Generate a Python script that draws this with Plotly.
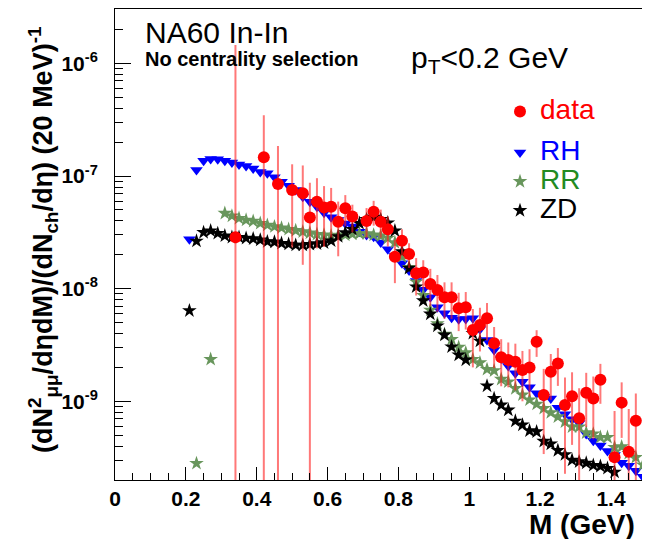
import plotly.graph_objects as go

# --- model curves (bin centres in GeV, yields per 20 MeV) ---
M_RH = [0.21, 0.23, 0.25, 0.27, 0.29, 0.31, 0.33, 0.35, 0.37, 0.39, 0.41, 0.43, 0.45,
        0.47, 0.49, 0.51, 0.53, 0.55, 0.57, 0.59, 0.61, 0.63, 0.65, 0.67, 0.69, 0.71,
        0.73, 0.75, 0.77, 0.79, 0.81, 0.83, 0.85, 0.87, 0.89, 0.91, 0.93, 0.95, 0.97,
        0.99, 1.01, 1.03, 1.05, 1.07, 1.09, 1.11, 1.13, 1.15, 1.17, 1.19, 1.21, 1.23,
        1.25, 1.27, 1.29, 1.31, 1.33, 1.35, 1.37, 1.39, 1.41, 1.43, 1.45, 1.47, 1.49]
RH = [2.75e-8, 1.13e-7, 1.37e-7, 1.42e-7, 1.41e-7, 1.37e-7, 1.32e-7, 1.27e-7, 1.23e-7,
      1.17e-7, 1.09e-7, 1.06e-7, 9.75e-8, 8.91e-8, 8.22e-8, 7.53e-8, 6.56e-8, 5.93e-8,
      5.35e-8, 4.73e-8, 4.31e-8, 4.07e-8, 3.80e-8, 3.56e-8, 3.21e-8, 3.00e-8, 2.90e-8,
      2.57e-8, 2.24e-8, 1.95e-8, 1.68e-8, 1.45e-8, 1.17e-8, 9.77e-9, 8.39e-9, 6.84e-9,
      6.05e-9, 5.52e-9, 5.35e-9, 5.38e-9, 5.46e-9, 4.37e-9, 3.50e-9, 2.86e-9, 2.40e-9,
      2.06e-9, 1.77e-9, 1.49e-9, 1.33e-9, 1.18e-9, 1.10e-9, 1.06e-9, 8.77e-10, 7.66e-10,
      6.92e-10, 6.37e-10, 5.13e-10, 4.47e-10, 4.04e-10, 3.62e-10, 3.33e-10, 2.85e-10,
      2.67e-10, 2.42e-10, 2.14e-10]

M_RR = [0.23, 0.27, 0.31, 0.33, 0.35, 0.37, 0.39, 0.41, 0.43, 0.45, 0.47, 0.49, 0.51,
        0.53, 0.55, 0.57, 0.59, 0.61, 0.63, 0.65, 0.67, 0.69, 0.71, 0.73, 0.75, 0.77,
        0.79, 0.81, 0.83, 0.85, 0.87, 0.89, 0.91, 0.93, 0.95, 0.97, 0.99, 1.01, 1.03,
        1.05, 1.07, 1.09, 1.11, 1.13, 1.15, 1.17, 1.19, 1.21, 1.23, 1.25, 1.27, 1.29,
        1.31, 1.33, 1.35, 1.37, 1.39, 1.41, 1.43, 1.45, 1.47, 1.49, 1.51]
RR = [2.81e-10, 2.36e-9, 4.68e-8, 4.43e-8, 4.22e-8, 4.07e-8, 3.98e-8, 3.81e-8, 3.67e-8,
      3.56e-8, 3.47e-8, 3.37e-8, 3.29e-8, 3.21e-8, 3.13e-8, 3.04e-8, 3.00e-8, 2.95e-8,
      2.99e-8, 3.00e-8, 3.06e-8, 3.09e-8, 3.09e-8, 3.00e-8, 2.94e-8, 2.81e-8, 2.57e-8,
      1.92e-8, 1.55e-8, 1.15e-8, 8.71e-9, 6.46e-9, 4.90e-9, 3.94e-9, 3.55e-9, 3.02e-9,
      2.70e-9, 2.36e-9, 2.20e-9, 1.92e-9, 1.87e-9, 1.57e-9, 1.49e-9, 1.30e-9, 1.14e-9,
      1.03e-9, 9.46e-10, 8.67e-10, 7.93e-10, 7.29e-10, 6.59e-10, 5.94e-10, 5.94e-10,
      5.26e-10, 5.13e-10, 4.79e-10, 4.79e-10, 3.89e-10, 3.95e-10, 3.45e-10, 3.18e-10,
      2.72e-10, 2.91e-10]

M_ZD = [0.21, 0.23, 0.25, 0.27, 0.29, 0.31, 0.33, 0.35, 0.37, 0.39, 0.41, 0.43, 0.45,
        0.47, 0.49, 0.51, 0.53, 0.55, 0.57, 0.59, 0.61, 0.63, 0.65, 0.67, 0.69, 0.71,
        0.73, 0.75, 0.77, 0.79, 0.81, 0.83, 0.85, 0.87, 0.89, 0.91, 0.93, 0.95, 0.97,
        0.99, 1.01, 1.03, 1.05, 1.07, 1.09, 1.11, 1.13, 1.15, 1.17, 1.19, 1.21, 1.23,
        1.25, 1.27, 1.29, 1.31, 1.33, 1.35, 1.37, 1.39, 1.41]
ZD = [6.38e-9, 2.65e-8, 3.16e-8, 3.27e-8, 3.10e-8, 2.95e-8, 2.86e-8, 2.86e-8, 2.81e-8,
      2.78e-8, 2.71e-8, 2.62e-8, 2.60e-8, 2.53e-8, 2.49e-8, 2.44e-8, 2.44e-8, 2.48e-8,
      2.51e-8, 2.56e-8, 2.66e-8, 2.90e-8, 3.15e-8, 3.37e-8, 3.81e-8, 4.13e-8, 4.31e-8,
      4.13e-8, 3.85e-8, 3.27e-8, 2.13e-8, 1.52e-8, 1.04e-8, 7.82e-9, 5.96e-9, 4.67e-9,
      3.88e-9, 3.05e-9, 2.58e-9, 2.33e-9, 4.02e-9, 3.43e-9, 1.37e-9, 1.06e-9, 9.27e-10,
      8.37e-10, 6.68e-10, 6.17e-10, 5.48e-10, 5.37e-10, 4.42e-10, 4.18e-10, 3.66e-10,
      3.36e-10, 3.01e-10, 2.91e-10, 2.83e-10, 2.70e-10, 2.65e-10, 2.54e-10, 2.35e-10]

# --- NA60 data with statistical errors ---
M_DATA = [0.34, 0.42, 0.46, 0.50, 0.53, 0.55, 0.57, 0.59, 0.61, 0.63, 0.65, 0.67, 0.71,
          0.73, 0.75, 0.77, 0.79, 0.81, 0.83, 0.85, 0.87, 0.89, 0.91, 0.93, 0.95, 0.97,
          0.99, 1.01, 1.03, 1.05, 1.07, 1.09, 1.11, 1.13, 1.15, 1.17, 1.19, 1.21, 1.23,
          1.25, 1.27, 1.29, 1.31, 1.33, 1.35, 1.37, 1.41, 1.43, 1.45, 1.47]
DATA = [2.86e-8, 1.47e-7, 8.51e-8, 7.53e-8, 7.03e-8, 4.28e-8, 5.93e-8, 5.25e-8, 5.35e-8,
        3.94e-8, 5.18e-8, 4.37e-8, 4.00e-8, 4.83e-8, 3.94e-8, 3.37e-8, 1.92e-8, 2.67e-8,
        2.03e-8, 1.37e-8, 1.39e-8, 1.10e-8, 9.73e-9, 8.39e-9, 8.39e-9, 6.70e-9, 6.84e-9,
        4.30e-9, 4.77e-9, 5.46e-9, 3.27e-9, 2.46e-9, 2.33e-9, 2.25e-9, 1.90e-9, 2.00e-9,
        3.38e-9, 1.14e-9, 1.83e-9, 2.17e-9, 9.27e-10, 1.11e-9, 7.06e-10, 1.19e-9,
        1.06e-9, 1.55e-9, 3.18e-10, 9.73e-10, 3.56e-10, 6.73e-10]
DATA_ERR = [1.43e-6, 2.0e-7, 1.0e-7, 5.2e-8, 5.4e-8, 4.45e-8, 3.65e-8, 2.9e-8, 2.5e-8,
            2.0e-8, 1.6e-8, 1.2e-8, 1.2e-8, 1.2e-8, 1.1e-8, 1.0e-8, 8e-9, 7e-9, 5e-9,
            5e-9, 4e-9, 4e-9, 3.5e-9, 3e-9, 3e-9, 2.5e-9, 2.5e-9, 2.3e-9, 2e-9, 2e-9,
            1.3e-9, 1.1e-9, 1.0e-9, 1.0e-9, 9e-10, 9e-10, 9e-10, 8e-10, 8e-10, 8e-10,
            7e-10, 7e-10, 6e-10, 6e-10, 6e-10, 6e-10, 5e-10, 5e-10, 5e-10, 5e-10]

X_TICKS = [0, 0.2, 0.4, 0.6, 0.8, 1.0, 1.2, 1.4]
X_TICKTEXT = ["0", "0.2", "0.4", "0.6", "0.8", "1", "1.2", "1.4"]
Y_TICKS = [1e-9, 1e-8, 1e-7, 1e-6]
Y_TICKTEXT = ["10<sup>-9</sup>", "10<sup>-8</sup>", "10<sup>-7</sup>", "10<sup>-6</sup>"]

FONT = "Liberation Sans, Arial, sans-serif"
GREEN = "rgb(104,150,92)"

# the page body adds an 8 px margin, so lay out in page pixels shifted by it
OFF = 8
W, H = 650, 539
L, T = 115 - OFF, 9 - OFF
R = OFF
B = H - (480 - OFF)
PW, PH = W - L - R, H - T - B


def px(x):
    return (x - OFF - L) / PW


def py(y):
    return (H - B - (y - OFF)) / PH


def legend_name(label, color):
    return f"<span style='color:{color};font-size:28px'>{label}</span>"


fig = go.Figure()
fig.add_trace(go.Scatter(
    x=M_RH, y=RH, mode="markers", name=legend_name("RH", "#0000ff"),
    marker=dict(symbol="triangle-down", size=11, color="#0000ff", line=dict(width=0)),
    legendgroup="models", legendrank=2,
))
fig.add_trace(go.Scatter(
    x=M_RR, y=RR, mode="markers", name=legend_name("RR", "#228b22"),
    marker=dict(symbol="star", size=11, color=GREEN, line=dict(width=0)),
    legendgroup="models", legendrank=3,
))
fig.add_trace(go.Scatter(
    x=M_ZD, y=ZD, mode="markers", name=legend_name("ZD", "#000000"),
    marker=dict(symbol="star", size=11, color="black", line=dict(width=0)),
    legendgroup="models", legendrank=4,
))
fig.add_trace(go.Scatter(
    x=M_DATA, y=DATA, mode="markers", name=legend_name("data", "#ff0000"),
    marker=dict(symbol="circle", size=12, color="#ff0000", line=dict(width=0)),
    error_y=dict(type="data", array=DATA_ERR, color="rgba(255,30,30,0.6)",
                 thickness=2, width=0),
    legendgroup="data", legendrank=1,
))

axis_common = dict(
    showline=True, linecolor="black", linewidth=1, mirror=True,
    showgrid=False, zeroline=False, ticks="inside", tickcolor="black",
    tickfont=dict(family=FONT, size=21, color="black", weight="bold"),
    automargin=False,
)

fig.update_xaxes(
    range=[0, 1.51], tickmode="array", tickvals=X_TICKS, ticktext=X_TICKTEXT,
    ticklen=13, ticklabelstandoff=0,
    minor=dict(ticks="inside", ticklen=7, tickcolor="black", dtick=0.05, tick0=0),
    **axis_common,
)
fig.update_yaxes(
    type="log", range=[-9.699, -5.516], tickmode="array", tickvals=Y_TICKS,
    ticktext=Y_TICKTEXT, ticklen=16, ticklabelstandoff=12,
    minor=dict(ticks="inside", ticklen=8, tickcolor="black", tickmode="array",
               tickvals=[d * 10.0 ** e for e in range(-10, -5) for d in range(2, 10)]),
    **axis_common,
)

annotations = [
    dict(text="NA60 In-In", x=px(143), y=py(33), xanchor="left", yanchor="middle",
         font=dict(family=FONT, size=30, color="black")),
    dict(text="<b>No centrality selection</b>", x=px(143), y=py(59), xanchor="left",
         yanchor="middle", font=dict(family=FONT, size=20, color="black")),
    dict(text="p<sub>T</sub>&lt;0.2 GeV", x=px(409), y=py(60), xanchor="left",
         yanchor="middle", font=dict(family=FONT, size=30, color="black")),
    dict(text="<b>M (GeV)</b>", x=px(637), y=py(524), xanchor="right", yanchor="middle",
         font=dict(family=FONT, size=28, color="black")),
    dict(text="<b>(dN<sup>2</sup><sub>μμ</sub>/dηdM)/(dN<sub>ch</sub>/dη) (20 MeV)<sup>-1</sup></b>",
         x=px(43), y=py(240), xanchor="center", yanchor="middle", textangle=-90,
         font=dict(family=FONT, size=27, color="black")),
]
for a in annotations:
    a.update(xref="paper", yref="paper", showarrow=False)

fig.update_layout(
    width=W, height=H,
    margin=dict(l=L, r=R, t=T, b=B, pad=0),
    paper_bgcolor="white", plot_bgcolor="white",
    annotations=annotations,
    showlegend=True,
    legend=dict(
        x=px(500), y=py(92), xanchor="left", yanchor="top",
        traceorder="grouped", tracegroupgap=12, itemsizing="trace",
        font=dict(family=FONT, size=20, color="black"),
        bgcolor="rgba(0,0,0,0)", borderwidth=0,
    ),
)

fig.write_html("out.html")
